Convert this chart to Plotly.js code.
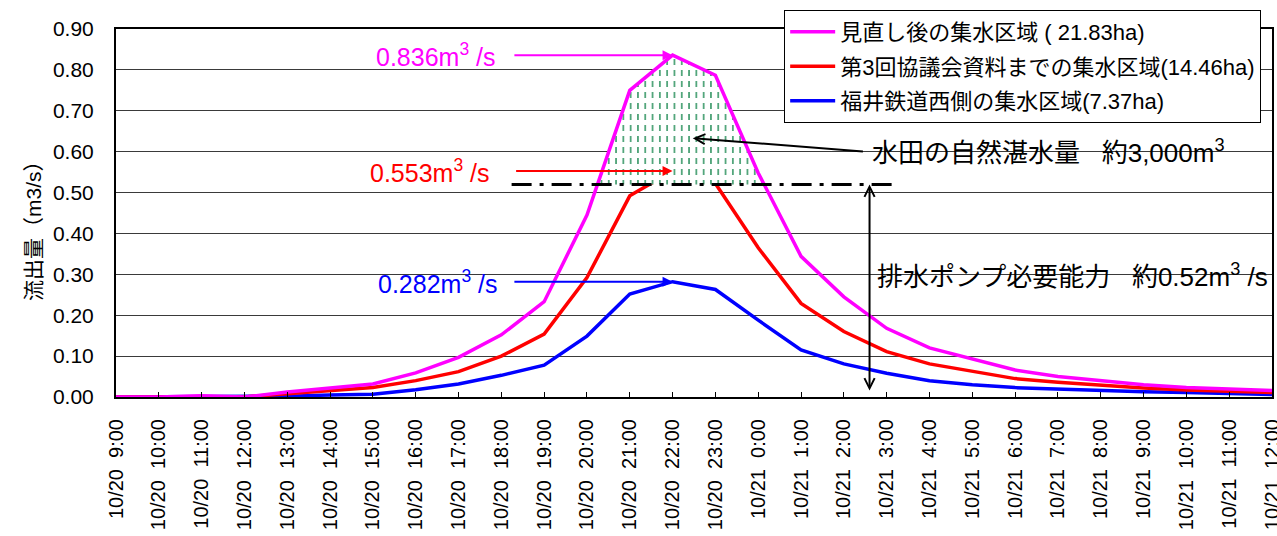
<!DOCTYPE html>
<html>
<head>
<meta charset="utf-8">
<script src="https://cdn.plot.ly/plotly-3.0.1.min.js"></script>
<style>
  html, body { margin: 0; padding: 0; background: #fff; }
  #chart { width: 1277px; height: 536px; }
</style>
</head>
<body>
<div id="chart"></div>
<script>
// Hourly time axis, 10/20 9:00 to 10/21 12:00
const timeLabels = [
  '10/20\u00a0 9:00', '10/20\u00a0 10:00', '10/20\u00a0 11:00', '10/20\u00a0 12:00',
  '10/20\u00a0 13:00', '10/20\u00a0 14:00', '10/20\u00a0 15:00', '10/20\u00a0 16:00',
  '10/20\u00a0 17:00', '10/20\u00a0 18:00', '10/20\u00a0 19:00', '10/20\u00a0 20:00',
  '10/20\u00a0 21:00', '10/20\u00a0 22:00', '10/20\u00a0 23:00', '10/21\u00a0 0:00',
  '10/21\u00a0 1:00', '10/21\u00a0 2:00', '10/21\u00a0 3:00', '10/21\u00a0 4:00',
  '10/21\u00a0 5:00', '10/21\u00a0 6:00', '10/21\u00a0 7:00', '10/21\u00a0 8:00',
  '10/21\u00a0 9:00', '10/21\u00a0 10:00', '10/21\u00a0 11:00', '10/21\u00a0 12:00'
];

// Runoff (m3/s) for each catchment
const seriesNames = [
  '見直し後の集水区域 ( 21.83ha)',
  '第3回協議会資料までの集水区域(14.46ha)',
  '福井鉄道西側の集水区域(7.37ha)'
];
const flowRevised = [0, 0, 0.003, 0, 0.012, 0.021, 0.032, 0.059, 0.097, 0.152,
  0.233, 0.445, 0.75, 0.836, 0.787, 0.548, 0.344, 0.245, 0.168, 0.12,
  0.093, 0.066, 0.05, 0.039, 0.03, 0.023, 0.019, 0.016];
const flowThirdMeeting = [0, 0, 0, 0, 0.008, 0.015, 0.023, 0.04, 0.062, 0.1,
  0.154, 0.292, 0.492, 0.553, 0.522, 0.365, 0.229, 0.16, 0.111, 0.081,
  0.062, 0.045, 0.036, 0.028, 0.022, 0.017, 0.014, 0.011];
const flowWestside = [0, 0, 0, 0, 0.002, 0.005, 0.007, 0.018, 0.032, 0.053,
  0.078, 0.149, 0.252, 0.282, 0.263, 0.188, 0.115, 0.081, 0.058, 0.04,
  0.03, 0.023, 0.019, 0.016, 0.013, 0.011, 0.008, 0.006];
const seriesColors = ['#ff00ff', '#ff0000', '#0000ff'];

// Required pump capacity (m3/s) and peak values
const pumpCapacity = 0.52;
const peakRevised = 0.836;
const peakThirdMeeting = 0.553;
const peakWestside = 0.282;
const peakHourIndex = 13;

const hours = timeLabels.map((_, i) => i);

// Outline of the part of a curve that lies above a level (single hump)
function regionAbove(xs, ys, level) {
  const px = [], py = [];
  for (let i = 0; i < ys.length; i++) {
    if (ys[i] >= level) { px.push(xs[i]); py.push(ys[i]); }
    if (i < ys.length - 1 && (ys[i] < level) !== (ys[i + 1] < level)) {
      const t = (level - ys[i]) / (ys[i + 1] - ys[i]);
      px.push(xs[i] + t * (xs[i + 1] - xs[i]));
      py.push(level);
    }
  }
  return { x: px, y: py };
}
const storage = regionAbove(hours, flowRevised, pumpCapacity);

const FONT = '"Liberation Sans", Arial, "Noto Sans CJK JP", sans-serif';

const traces = [
  {
    x: hours, y: flowWestside, name: seriesNames[2], mode: 'lines',
    line: { color: seriesColors[2], width: 3.5 }, legendrank: 3,
    legendgroup: 'c', hoverinfo: 'skip'
  },
  {
    x: hours, y: flowThirdMeeting, name: seriesNames[1], mode: 'lines',
    line: { color: seriesColors[1], width: 3.5 }, legendrank: 2,
    legendgroup: 'b', hoverinfo: 'skip'
  },
  // natural storage volume of the paddy fields: hatched area above pump capacity
  {
    x: storage.x, y: storage.y, mode: 'none', fill: 'toself',
    fillcolor: '#ffffff', showlegend: false, hoverinfo: 'skip',
    fillpattern: { shape: '|', fgcolor: '#3c9a6a', bgcolor: '#ffffff', size: 7.3, solidity: 0.22 }
  },
  {
    x: storage.x, y: storage.y, mode: 'none', fill: 'toself',
    fillcolor: 'rgba(0,0,0,0)', showlegend: false, hoverinfo: 'skip',
    fillpattern: { shape: '-', fgcolor: '#ffffff', bgcolor: 'rgba(0,0,0,0)', size: 11, solidity: 0.45 }
  },
  {
    x: hours, y: flowRevised, name: seriesNames[0], mode: 'lines',
    line: { color: seriesColors[0], width: 3.5 }, legendrank: 1,
    legendgroup: 'a', hoverinfo: 'skip'
  }
];

function arrow(xHead, yHead, xTail, yTail, color, head, side) {
  return {
    x: xHead, y: yHead, ax: xTail, ay: yTail, xref: 'x', yref: 'y', axref: 'x', ayref: 'y',
    text: '', showarrow: true, arrowcolor: color, arrowwidth: 2, arrowhead: head,
    startarrowhead: head, arrowsize: 1, startarrowsize: 1, arrowside: side || 'end',
    standoff: 0, startstandoff: 0
  };
}
function label(x, y, text, color, anchor, size) {
  return {
    x: x, y: y, xref: 'x', yref: 'y', text: text, showarrow: false,
    xanchor: anchor, yanchor: 'middle', font: { family: FONT, size: size || 25, color: color }
  };
}

const annotations = [
  label(8.93, peakRevised, peakRevised + 'm<sup>3</sup> /s', seriesColors[0], 'right'),
  label(8.78, peakThirdMeeting, peakThirdMeeting + 'm<sup>3</sup> /s', seriesColors[1], 'right'),
  label(8.97, peakWestside, peakWestside + 'm<sup>3</sup> /s', seriesColors[2], 'right'),
  arrow(peakHourIndex, peakRevised, 9.27, peakRevised, seriesColors[0], 2),
  arrow(peakHourIndex, peakThirdMeeting, 9.31, peakThirdMeeting, seriesColors[1], 2),
  arrow(peakHourIndex, peakWestside, 9.27, peakWestside, seriesColors[2], 2),
  label(17.6, 0.60, '水田の自然湛水量\u00a0\u00a0 約3,000m<sup>3</sup>', '#000000', 'left', 26),
  arrow(13.47, 0.633, 17.48, 0.60, '#000000', 5),
  label(17.72, 0.298, '排水ポンプ必要能力\u00a0\u00a0 約' + pumpCapacity + 'm<sup>3</sup> /s', '#000000', 'left', 26),
  arrow(17.6, pumpCapacity, 17.6, 0.012, '#000000', 5, 'end+start'),
  {
    x: -0.072, y: 0.467, xref: 'paper', yref: 'paper', text: '流出量（m3/s）',
    textangle: -90, showarrow: false, xanchor: 'center', yanchor: 'middle',
    font: { family: FONT, size: 21, color: '#000000' }
  }
];

const layout = {
  width: 1277, height: 536,
  margin: { l: 116, r: 5, t: 29, b: 139 },
  paper_bgcolor: '#ffffff', plot_bgcolor: '#ffffff',
  font: { family: FONT, color: '#000000' },
  showlegend: true,
  legend: {
    x: 0.578, y: 1.052, xanchor: 'left', yanchor: 'top',
    bgcolor: '#ffffff', bordercolor: '#000000', borderwidth: 1,
    font: { family: FONT, size: 22, color: '#000000' },
    traceorder: 'grouped', tracegroupgap: 3, itemwidth: 45
  },
  xaxis: {
    range: [0, 27], tickmode: 'array', tickvals: hours, ticktext: timeLabels,
    tickangle: -90, tickfont: { family: FONT, size: 20, color: '#000000' },
    ticks: 'inside', ticklen: 5, tickwidth: 1, tickcolor: '#000000',
    showgrid: false, zeroline: false, showline: true, linecolor: '#000000',
    linewidth: 2, mirror: true, ticklabelstandoff: 12, ticklabeloverflow: 'allow'
  },
  yaxis: {
    range: [0, 0.9], dtick: 0.1, tick0: 0, tickformat: '.2f',
    tickfont: { family: FONT, size: 21, color: '#000000' },
    ticks: '', showgrid: true, gridcolor: '#3a3a3a', gridwidth: 1,
    zeroline: false, showline: true, linecolor: '#000000', linewidth: 2,
    mirror: true, ticklabelstandoff: 16
  },
  shapes: [
    {
      type: 'line', xref: 'x', yref: 'y', x0: 9.24, x1: 18.2,
      y0: pumpCapacity, y1: pumpCapacity,
      line: { color: '#000000', width: 3, dash: '20px,8px,4px,8px' }
    }
  ],
  annotations: annotations
};

Plotly.newPlot('chart', traces, layout, { displayModeBar: false, staticPlot: true });
</script>
</body>
</html>
